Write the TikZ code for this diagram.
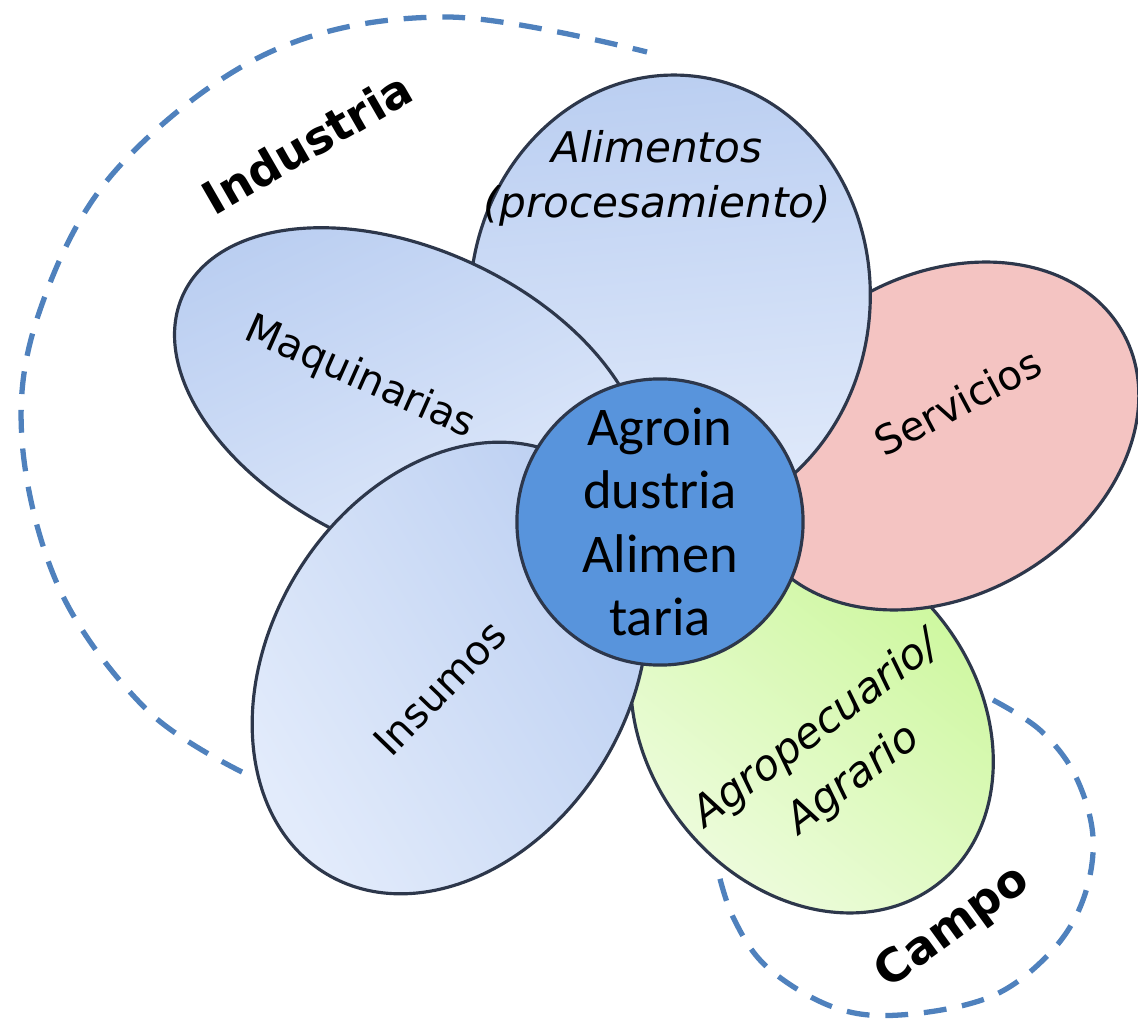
\documentclass[tikz,border=0pt]{standalone}
\usepackage{fontspec}
\setmainfont{DejaVu Sans}
\newfontfamily\calibri{Carlito}
\usetikzlibrary{shapes.geometric}

\definecolor{dashblue}{RGB}{79,129,189}
\definecolor{petaltop}{RGB}{186,206,241}
\definecolor{petalbot}{RGB}{226,235,251}
\definecolor{petalline}{RGB}{45,55,75}
\definecolor{pinkfill}{RGB}{244,196,194}
\definecolor{greenlight}{RGB}{240,252,226}
\definecolor{greendeep}{RGB}{202,247,152}
\definecolor{hubblue}{RGB}{88,148,220}

\tikzset{
  petal/.style={ellipse, draw=petalline, line width=0.9pt, inner sep=0pt},
  bluepetal/.style={petal, top color=petaltop, bottom color=petalbot},
  lbl/.style={font=\fontsize{11.5}{15.5}\selectfont, align=center},
  group/.style={font=\bfseries\fontsize{13}{15}\selectfont},
  ring/.style={dashblue, line width=1.5pt, dash pattern=on 6.5pt off 4.5pt},
}

\begin{document}
\begin{tikzpicture}[x=0.01cm,y=-0.01cm]
    \useasboundingbox (0,0) rectangle (1138,1024);
    % dashed groups
    \draw[ring] plot[smooth, tension=0.6] coordinates {(242,772) (147,710) (60,590) (22,440) (40,310) (116,170) (268,53) (446,17) (647,52)};
    \draw[ring] plot[smooth, tension=0.6] coordinates {(993,700) (1040,730) (1075,775) (1093,837) (1083,900) (1050,953) (990,997) (900,1015) (833,1007) (767,967) (733,917) (717,867)};
    % petals
    \node[petal, left color=greenlight, right color=greendeep, shading angle=142, minimum width=4.1cm, minimum height=3.3cm, rotate=-52] (agro) at (812,722) {};
    \node[petal, fill=pinkfill, minimum width=4.2cm, minimum height=3.2cm, rotate=30] (serv) at (940,436) {};
    \node[bluepetal, shading angle=5, minimum width=4cm, minimum height=4.5cm, rotate=-5] (alim) at (670,300) {};
    \node[bluepetal, shading angle=25, minimum width=5cm, minimum height=3cm, rotate=-25] (maq) at (410,400) {};
    \node[bluepetal, shading angle=-59, minimum width=4.8cm, minimum height=3.6cm, rotate=59] (ins) at (450,668) {};
    % hub
    \node[circle, draw=petalline, line width=0.9pt, fill=hubblue, minimum size=2.86cm, inner sep=0pt,
          font=\calibri\fontsize{15.5}{18}\selectfont, align=center] (hub) at (660,522) {Agroin\\dustria\\Alimen\\taria};
    % labels
    \node[lbl, rotate=-24] (maqtxt) at (360,378) {Maquinarias};
    \node[lbl, font=\itshape\fontsize{12}{15.6}\selectfont] (alimtxt) at (657,178) {Alimentos\\(procesamiento)};
    \node[lbl, rotate=28] (servtxt) at (958,402) {Servicios};
    \node[lbl, rotate=46] (instxt) at (440,688) {Insumos};
    \node[lbl, font=\itshape\fontsize{12}{17.5}\selectfont, rotate=37] (agrotxt) at (835,755) {Agropecuario/\\Agrario};
    \node[group, rotate=30] (industria) at (307,143) {Industria};
    \node[group, rotate=36] (campo) at (953,928) {Campo};
\end{tikzpicture}
\end{document}
